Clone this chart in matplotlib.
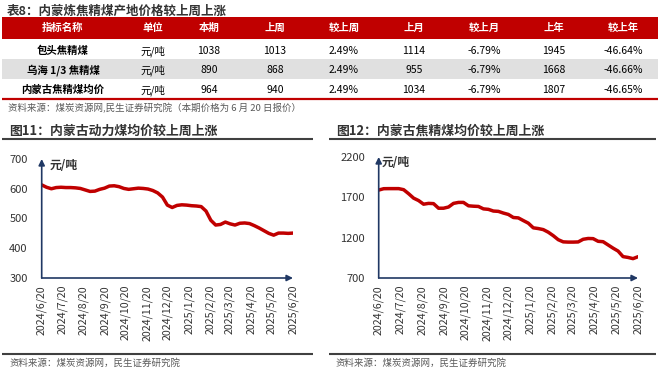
import matplotlib
matplotlib.use("Agg")
import matplotlib.pyplot as plt
from matplotlib.patches import Rectangle
import pandas as pd

plt.rcParams['font.family'] = ['Noto Sans CJK SC', 'DejaVu Sans']

# ---- table data ----
table_title = "表8：内蒙炼焦精煤产地价格较上周上涨"
table_header = ["指标名称", "单位", "本期", "上周", "较上周", "上月", "较上月", "上年", "较上年"]
table_rows = [
    ["包头焦精煤", "元/吨", "1038", "1013", "2.49%", "1114", "-6.79%", "1945", "-46.64%"],
    ["乌海 1/3 焦精煤", "元/吨", "890", "868", "2.49%", "955", "-6.79%", "1668", "-46.66%"],
    ["内蒙古焦精煤均价", "元/吨", "964", "940", "2.49%", "1034", "-6.79%", "1807", "-46.65%"],
]
table_source = "资料来源：煤炭资源网,民生证券研究院（本期价格为 6 月 20 日报价）"

# ---- chart data (weekly, 2024/6/20 - 2025/6/20) ----
dates = pd.date_range("2024-06-20", "2025-06-20", periods=53)
power_coal = [613, 605, 600, 604, 605, 604, 604, 603, 601, 596, 591, 592, 598, 602,
              609, 610, 607, 601, 598, 600, 602, 601, 599, 594, 586, 572, 545, 537,
              544, 546, 545, 543, 542, 540, 525, 494, 478, 480, 488, 482, 478, 484,
              485, 483, 476, 468, 459, 450, 444, 451, 451, 450, 451]
coking_coal = [1790, 1807, 1808, 1808, 1808, 1795, 1745, 1690, 1660, 1615, 1625, 1622,
               1565, 1565, 1580, 1625, 1637, 1637, 1595, 1590, 1587, 1557, 1551, 1530,
               1526, 1505, 1488, 1450, 1445, 1412, 1380, 1322, 1313, 1300, 1268, 1225,
               1175, 1148, 1145, 1145, 1147, 1180, 1190, 1188, 1155, 1150, 1110, 1070,
               1034, 965, 955, 940, 964]
tick_labels = ["2024/6/20", "2024/7/20", "2024/8/20", "2024/9/20", "2024/10/20",
               "2024/11/20", "2024/12/20", "2025/1/20", "2025/2/20", "2025/3/20",
               "2025/4/20", "2025/5/20", "2025/6/20"]

RED = "#C00000"
NAVY = "#203864"
DARK = "#333333"
GRAY = "#595959"

W, H = 662, 374
fig = plt.figure(figsize=(W / 100, H / 100), dpi=100)

# background axes in pixel coords for table and decorations
bg = fig.add_axes([0, 0, 1, 1])
bg.set_xlim(0, W)
bg.set_ylim(H, 0)
bg.axis("off")

bg.text(7, 11, table_title, fontsize=9, fontweight="bold", color=DARK, va="center")
col_x = [63, 153, 209, 275, 344, 414, 484, 554, 623]
bg.add_patch(Rectangle((2, 17), 656, 22, color=RED, lw=0))
bg.add_patch(Rectangle((2, 59), 656, 20, color="#E0E0E0", lw=0))
bg.plot([2, 658], [99, 99], color=RED, lw=1.6, solid_capstyle="butt")
for x, h in zip(col_x, table_header):
    bg.text(x, 28, h, fontsize=7.5, fontweight="bold", color="white", ha="center", va="center")
for y, row in zip([51, 70, 90], table_rows):
    for j, (x, v) in enumerate(zip(col_x, row)):
        bg.text(x, y, v, fontsize=7.5, fontweight="bold" if j == 0 else "normal",
                color="black", ha="center", va="center")
bg.text(8, 108, table_source, fontsize=6.8, color=GRAY, va="center")

# panel decorations
for x0, x1, title in [(2, 313, "图11：内蒙古动力煤均价较上周上涨"),
                      (329, 656, "图12：内蒙古焦精煤均价较上周上涨")]:
    bg.text(x0 + 7, 131, title, fontsize=9.3, fontweight="bold", color=DARK, va="center")
    bg.plot([x0, x1], [139, 139], color="#404040", lw=1.5, solid_capstyle="butt")
    bg.plot([x0, x1], [354, 354], color="#404040", lw=1.5, solid_capstyle="butt")
    bg.text(x0 + 7, 363, "资料来源：煤炭资源网，民生证券研究院", fontsize=6.8, color=GRAY, va="center")

tick_dates = [pd.Timestamp(s.replace("/", "-")) for s in tick_labels]


def make_chart(left_px, right_px, top_px, values, ylim, yticks, unit_xy):
    ax = fig.add_axes([left_px / W, 1 - 278 / H, (right_px - left_px) / W, (278 - top_px) / H])
    ax.patch.set_alpha(0)
    ax.plot(dates, values, color=RED, lw=2.5, solid_capstyle="round", zorder=3)
    ax.set_xlim(dates[0], dates[-1])
    ax.set_ylim(*ylim)
    ax.set_yticks(yticks)
    ax.set_yticklabels([str(t) for t in yticks], fontsize=8, color=DARK)
    ax.set_xticks(tick_dates)
    ax.set_xticklabels(tick_labels, rotation=90, fontsize=7.7, color=DARK)
    ax.tick_params(axis="y", length=0, pad=10)
    ax.tick_params(axis="x", length=0, pad=5)
    for s in ax.spines.values():
        s.set_visible(False)
    ax.annotate("", xy=(1.0, 0), xytext=(0, 0), xycoords="axes fraction",
                arrowprops=dict(arrowstyle="-|>", color=NAVY, lw=1.2, mutation_scale=9,
                                shrinkA=0, shrinkB=0))
    ax.annotate("", xy=(0, 1.0), xytext=(0, 0), xycoords="axes fraction",
                arrowprops=dict(arrowstyle="-|>", color=NAVY, lw=1.2, mutation_scale=9,
                                shrinkA=0, shrinkB=0))
    bg.text(unit_xy[0], unit_xy[1], "元/吨", fontsize=8.5, fontweight="bold", color=DARK, va="center")
    return ax


make_chart(41.7, 293, 159, power_coal, (300, 700), [300, 400, 500, 600, 700], (50, 165))
make_chart(378.7, 638, 157, coking_coal, (700, 2200), [700, 1200, 1700, 2200], (382, 162))

fig.savefig("out.png", dpi=100, facecolor="white")
